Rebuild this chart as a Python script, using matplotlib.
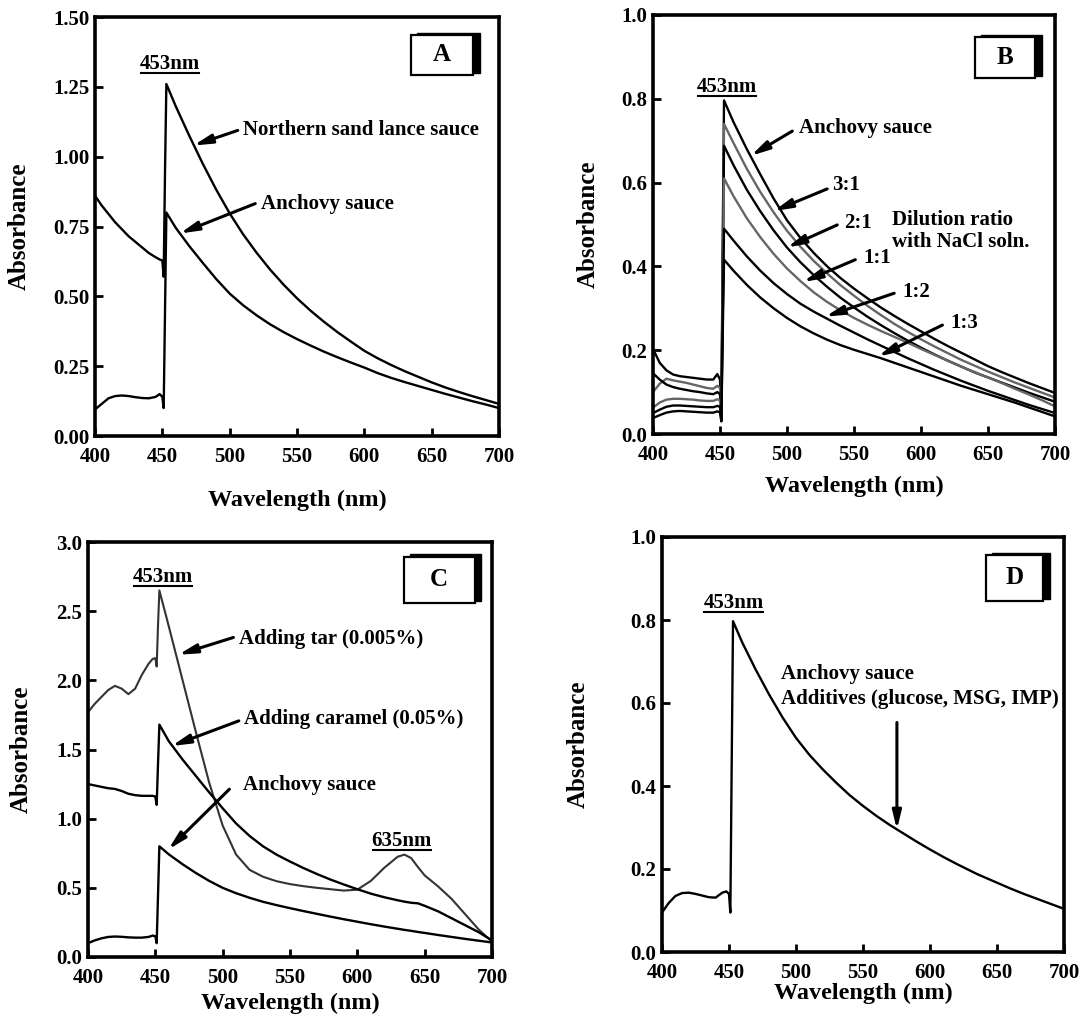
import matplotlib
matplotlib.use("Agg")
import matplotlib.pyplot as plt
from matplotlib.patches import Rectangle
from matplotlib.lines import Line2D
from matplotlib.transforms import IdentityTransform

plt.rcParams['font.family'] = ['Liberation Serif', 'DejaVu Serif']
plt.rcParams['font.weight'] = 'bold'

# ---------------- data ----------------
WL = [400, 405, 410, 415, 420, 425, 430, 435, 440, 445, 448, 450, 451, 452, 453,
      460, 470, 480, 490, 500, 510, 520, 530, 540, 550, 560, 570, 580, 590, 600,
      610, 620, 630, 635, 640, 645, 650, 660, 670, 680, 690, 700]

# Panel A
A_sandlance = [0.86, 0.825, 0.795, 0.765, 0.74, 0.715, 0.695, 0.675, 0.655, 0.64, 0.632, 0.628, 0.57, 0.95, 1.26,
               1.18, 1.075, 0.975, 0.882, 0.797, 0.722, 0.656, 0.596, 0.542, 0.493, 0.449, 0.409, 0.372, 0.338, 0.305,
               0.278, 0.254, 0.232, 0.222, 0.212, 0.202, 0.192, 0.174, 0.158, 0.143, 0.129, 0.115]
A_anchovy = [0.095, 0.115, 0.135, 0.143, 0.145, 0.143, 0.139, 0.136, 0.135, 0.14, 0.15, 0.14, 0.10, 0.45, 0.80,
             0.745, 0.68, 0.62, 0.562, 0.51, 0.468, 0.432, 0.40, 0.372, 0.347, 0.324, 0.302, 0.282, 0.263, 0.245,
             0.225, 0.208, 0.193, 0.186, 0.179, 0.172, 0.165, 0.151, 0.138, 0.125, 0.113, 0.10]

# Panel B (dilution series)
B_labels = ['Anchovy sauce', '3:1', '2:1', '1:1', '1:2', '1:3']
B_anchovy = [0.203, 0.17, 0.152, 0.142, 0.138, 0.136, 0.134, 0.132, 0.13, 0.13, 0.143, 0.13, 0.04, 0.45, 0.796,
             0.745, 0.68, 0.62, 0.562, 0.51, 0.468, 0.432, 0.40, 0.372, 0.347, 0.324, 0.302, 0.282, 0.263, 0.245,
             0.227, 0.21, 0.194, 0.186, 0.178, 0.17, 0.162, 0.148, 0.135, 0.122, 0.11, 0.098]
B_31 = [0.10, 0.12, 0.132, 0.128, 0.125, 0.122, 0.118, 0.114, 0.11, 0.108, 0.115, 0.11, 0.035, 0.40, 0.74,
        0.695, 0.633, 0.578, 0.529, 0.485, 0.447, 0.413, 0.383, 0.355, 0.33, 0.306, 0.284, 0.263, 0.244, 0.226,
        0.209, 0.193, 0.177, 0.17, 0.163, 0.156, 0.149, 0.136, 0.123, 0.111, 0.099, 0.087]
B_21 = [0.145, 0.13, 0.118, 0.112, 0.108, 0.105, 0.102, 0.10, 0.097, 0.095, 0.10, 0.095, 0.035, 0.37, 0.688,
        0.642, 0.583, 0.532, 0.486, 0.445, 0.41, 0.379, 0.351, 0.325, 0.302, 0.28, 0.26, 0.241, 0.223, 0.206,
        0.19, 0.175, 0.161, 0.154, 0.147, 0.141, 0.135, 0.123, 0.111, 0.099, 0.088, 0.077]
B_11 = [0.063, 0.075, 0.082, 0.084, 0.084, 0.083, 0.082, 0.08, 0.079, 0.079, 0.083, 0.08, 0.033, 0.33, 0.61,
        0.568, 0.515, 0.47, 0.43, 0.395, 0.365, 0.338, 0.315, 0.295, 0.277, 0.261, 0.246, 0.232, 0.218, 0.203,
        0.189, 0.175, 0.161, 0.154, 0.148, 0.141, 0.135, 0.122, 0.108, 0.095, 0.081, 0.066]
B_12 = [0.05, 0.058, 0.065, 0.068, 0.068, 0.067, 0.066, 0.065, 0.064, 0.064, 0.067, 0.065, 0.032, 0.27, 0.49,
        0.462, 0.424, 0.39, 0.36, 0.334, 0.311, 0.292, 0.275, 0.258, 0.242, 0.226, 0.211, 0.196, 0.181, 0.167,
        0.153, 0.14, 0.127, 0.121, 0.115, 0.109, 0.103, 0.092, 0.081, 0.07, 0.06, 0.05]
B_13 = [0.038, 0.045, 0.051, 0.054, 0.055, 0.054, 0.053, 0.052, 0.051, 0.051, 0.054, 0.052, 0.03, 0.23, 0.416,
        0.39, 0.356, 0.326, 0.3, 0.277, 0.257, 0.24, 0.225, 0.212, 0.201, 0.191, 0.181, 0.17, 0.159, 0.148,
        0.137, 0.126, 0.115, 0.11, 0.105, 0.1, 0.095, 0.085, 0.075, 0.064, 0.053, 0.042]

# Panel C
C_tar = [1.77, 1.83, 1.88, 1.93, 1.96, 1.94, 1.90, 1.94, 2.04, 2.12, 2.155, 2.16, 2.10, 2.40, 2.65,
         2.39, 2.01, 1.63, 1.26, 0.95, 0.74, 0.63, 0.58, 0.548, 0.527, 0.512, 0.50, 0.49, 0.48, 0.487,
         0.55, 0.645, 0.725, 0.74, 0.715, 0.65, 0.59, 0.51, 0.42, 0.31, 0.20, 0.11]
C_caramel = [1.25, 1.24, 1.23, 1.22, 1.215, 1.20, 1.18, 1.17, 1.165, 1.165, 1.165, 1.16, 1.10, 1.40, 1.68,
             1.56, 1.43, 1.31, 1.19, 1.075, 0.965, 0.875, 0.80, 0.74, 0.69, 0.643, 0.60, 0.56, 0.524, 0.49,
             0.458, 0.432, 0.41, 0.40, 0.392, 0.388, 0.37, 0.33, 0.28, 0.23, 0.18, 0.12]
C_anchovy = [0.10, 0.12, 0.135, 0.145, 0.148, 0.146, 0.142, 0.14, 0.14, 0.145, 0.155, 0.15, 0.10, 0.45, 0.80,
             0.742, 0.672, 0.608, 0.55, 0.50, 0.461, 0.428, 0.399, 0.375, 0.353, 0.332, 0.312, 0.292, 0.273, 0.255,
             0.237, 0.22, 0.204, 0.196, 0.189, 0.181, 0.174, 0.159, 0.145, 0.131, 0.118, 0.105]

# Panel D
D_anchovy = [0.095, 0.118, 0.135, 0.142, 0.143, 0.14, 0.136, 0.132, 0.131, 0.143, 0.146, 0.14, 0.095, 0.45, 0.797,
             0.745, 0.68, 0.62, 0.565, 0.516, 0.475, 0.44, 0.408, 0.378, 0.352, 0.328, 0.306, 0.286, 0.266, 0.247,
             0.229, 0.212, 0.196, 0.188, 0.181, 0.174, 0.167, 0.153, 0.14, 0.128, 0.116, 0.104]

X_TICKS = [400, 450, 500, 550, 600, 650, 700]
A_YTICKS = [0.00, 0.25, 0.50, 0.75, 1.00, 1.25, 1.50]
B_YTICKS = [0.0, 0.2, 0.4, 0.6, 0.8, 1.0]
C_YTICKS = [0.0, 0.5, 1.0, 1.5, 2.0, 2.5, 3.0]
D_YTICKS = [0.0, 0.2, 0.4, 0.6, 0.8, 1.0]

# ---------------- figure ----------------
W, H = 1081, 1019
fig = plt.figure(figsize=(W / 100, H / 100), dpi=100)


def make_axes(px_left, px_right, px_top, px_bottom):
    return fig.add_axes([px_left / W, (H - px_bottom) / H,
                         (px_right - px_left) / W, (px_bottom - px_top) / H])


axA = make_axes(95, 499, 17, 436)
axB = make_axes(653, 1055, 15, 434)
axC = make_axes(88, 492, 542, 957)
axD = make_axes(662, 1064, 537, 952)

LW = 1.7
ANN_FS = 15


def style(ax, yticks, fmt, ylim, xlab_off, ylab_off):
    ax.set_xlim(400, 700)
    ax.set_ylim(*ylim)
    ax.set_xticks(X_TICKS)
    ax.set_yticks(yticks)
    ax.set_yticklabels([fmt % v for v in yticks])
    ax.tick_params(direction='in', length=6, width=2, labelsize=15, top=False, right=False)
    ax.tick_params(axis='x', pad=8)
    ax.tick_params(axis='y', pad=4)
    for lab in ax.get_xticklabels() + ax.get_yticklabels():
        lab.set_fontweight('bold')
    for sp in ax.spines.values():
        sp.set_linewidth(2.6)
    ax.set_xlabel('Wavelength (nm)', fontsize=17.5, fontweight='bold')
    ax.set_ylabel('Absorbance', fontsize=18, fontweight='bold')
    ax.xaxis.label.set_va('center')
    ax.yaxis.label.set_va('center')
    ax.xaxis.set_label_coords(0.5, xlab_off)
    ax.yaxis.set_label_coords(ylab_off, 0.5)


def label_box(ax, letter, x0, x1, y0, y1):
    dx, dy = 0.016, 0.005
    ax.add_patch(Rectangle((x0 + dx, y0 + dy), x1 - x0, y1 - y0, transform=ax.transAxes,
                           facecolor='black', edgecolor='black', lw=1, zorder=5))
    ax.add_patch(Rectangle((x0, y0), x1 - x0, y1 - y0, transform=ax.transAxes,
                           facecolor='white', edgecolor='black', lw=1.6, zorder=6))
    ax.text((x0 + x1) / 2, (y0 + y1) / 2, letter, transform=ax.transAxes, ha='center', va='center',
            fontsize=18, fontweight='bold', zorder=7)


underlined = []


def ann(ax, text, xy_text, xy_tip=None, tail=None, ha='left', underline=False, fs=ANN_FS, weight='bold'):
    t = ax.text(xy_text[0], xy_text[1], text, ha=ha, va='center', fontsize=fs, fontweight=weight)
    if underline:
        underlined.append(t)
    if xy_tip is not None:
        ax.annotate('', xy=xy_tip, xytext=tail,
                    arrowprops=dict(arrowstyle='-|>,head_length=0.9,head_width=0.22',
                                    lw=2.2, color='black', shrinkA=0, shrinkB=0,
                                    mutation_scale=12))
    return t


# Panel A
axA.plot(WL, A_sandlance, color='black', lw=LW)
axA.plot(WL, A_anchovy, color='black', lw=LW)
style(axA, A_YTICKS, '%.2f', (0, 1.5), -0.153, -0.188)
label_box(axA, 'A', 0.782, 0.936, 0.862, 0.958)
ann(axA, '453nm', (455.6, 1.333), ha='center', underline=True)
ann(axA, 'Northern sand lance sauce', (510, 1.094), (473, 1.04), (506, 1.094))
ann(axA, 'Anchovy sauce', (523, 0.83), (463, 0.725), (519, 0.832))

# Panel B
B_series = [B_anchovy, B_31, B_21, B_11, B_12, B_13]
B_colors = ['black', '#666666', 'black', '#666666', 'black', 'black']
for ys, c in zip(B_series, B_colors):
    axB.plot(WL, ys, color=c, lw=LW)
style(axB, B_YTICKS, '%.1f', (0, 1.0), -0.124, -0.16)
label_box(axB, 'B', 0.801, 0.951, 0.85, 0.948)
ann(axB, '453nm', (455.5, 0.828), ha='center', underline=True)
B_text_pos = [(509, 0.73), (534, 0.594), (543, 0.503), (557, 0.42), (586, 0.338), (622, 0.264)]
B_tails = [(504, 0.723), (530, 0.585), (537.5, 0.499), (551, 0.416), (580, 0.336), (616, 0.26)]
B_tips = [(473, 0.664), (490, 0.532), (500, 0.445), (512, 0.363), (528.5, 0.28), (568, 0.185)]
for lab, tp, tl, tip in zip(B_labels, B_text_pos, B_tails, B_tips):
    ann(axB, lab, tp, tip, tl)
axB.text(578.7, 0.485, 'Dilution ratio\nwith NaCl soln.', ha='left', va='center',
         fontsize=ANN_FS, fontweight='bold', linespacing=1.15)

# Panel C
axC.plot(WL, C_tar, color='#333333', lw=LW - 0.2)
axC.plot(WL, C_caramel, color='black', lw=LW)
axC.plot(WL, C_anchovy, color='black', lw=LW)
style(axC, C_YTICKS, '%.1f', (0, 3.0), -0.111, -0.166)
label_box(axC, 'C', 0.781, 0.957, 0.853, 0.965)
ann(axC, '453nm', (455.8, 2.746), ha='center', underline=True)
ann(axC, '635nm', (633, 0.84), ha='center', underline=True)
ann(axC, 'Adding tar (0.005%)', (512, 2.30), (467, 2.185), (508, 2.31))
ann(axC, 'Adding caramel (0.05%)', (516, 1.72), (462, 1.525), (512, 1.707))
ann(axC, 'Anchovy sauce', (515, 1.24), (459.6, 0.777), (505, 1.213))

# Panel D
axD.plot(WL, D_anchovy, color='black', lw=LW)
style(axD, D_YTICKS, '%.1f', (0, 1.0), -0.099, -0.209)
label_box(axD, 'D', 0.806, 0.948, 0.846, 0.957)
ann(axD, '453nm', (453.3, 0.84), ha='center', underline=True)
ann(axD, 'Anchovy sauce', (489, 0.67), fs=ANN_FS)
ann(axD, 'Additives (glucose, MSG, IMP)', (489, 0.61), (575.3, 0.295), (575.3, 0.553), fs=ANN_FS)

# underline the wavelength markers
fig.canvas.draw()
renderer = fig.canvas.get_renderer()
for t in underlined:
    bb = t.get_window_extent(renderer)
    fig.add_artist(Line2D([bb.x0 + 1, bb.x1 - 1], [bb.y0 + 1, bb.y0 + 1],
                          transform=IdentityTransform(), color='black', lw=1.5))

fig.savefig('out.png', dpi=100)
